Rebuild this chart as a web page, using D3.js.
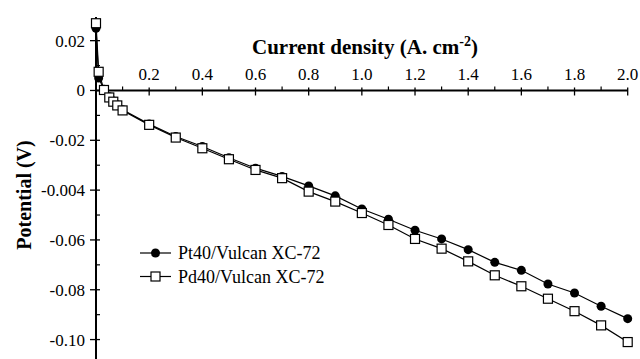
<!DOCTYPE html>
<html>
<head>
<meta charset="utf-8">
<script src="https://cdn.jsdelivr.net/npm/d3@7"></script>
<style>
  body { margin: 0; background: #fff; }
  svg { display: block; font-family: "Liberation Serif", "Times New Roman", serif; }
</style>
</head>
<body>
<svg id="chart" width="640" height="359"></svg>
<script>
// current density (A/cm2)
var current = [0, 0.01, 0.03, 0.05, 0.065, 0.08, 0.1,
    0.2, 0.3, 0.4, 0.5, 0.6, 0.7, 0.8, 0.9, 1.0,
    1.1, 1.2, 1.3, 1.4, 1.5, 1.6, 1.7, 1.8, 1.9, 2.0];
// potential (V)
var pt40 = [0.025, 0.005, 0.0005, -0.0025, -0.0042, -0.0057, -0.0077,
    -0.0135, -0.0185, -0.0225, -0.027, -0.0312, -0.0345, -0.0383, -0.0423, -0.0476,
    -0.0517, -0.0561, -0.0596, -0.0639, -0.069, -0.0722, -0.0777, -0.0813, -0.0866, -0.0916];
var pd40 = [0.027, 0.0075, 0.0002, -0.0028, -0.0045, -0.006, -0.008,
    -0.0138, -0.0189, -0.0232, -0.0276, -0.0319, -0.0352, -0.0406, -0.0446, -0.0492,
    -0.0540, -0.0596, -0.0635, -0.0686, -0.0742, -0.0786, -0.0836, -0.0886, -0.0943, -0.101];
var seriesNames = ["Pt40/Vulcan XC-72", "Pd40/Vulcan XC-72"];
var xTicks = [0.2, 0.4, 0.6, 0.8, 1.0, 1.2, 1.4, 1.6, 1.8, 2.0];
var xMinor = [0.1, 0.3, 0.5, 0.7, 0.9, 1.1, 1.3, 1.5, 1.7, 1.9];
var yTicks = [0.02, 0, -0.02, -0.04, -0.06, -0.08, -0.10];
var yTickLabels = ["0.02", "0", "-0.02", "-0.004", "-0.06", "-0.08", "-0.10"];
var yMinor = [0.01, -0.01, -0.03, -0.05, -0.07, -0.09];

var svg = d3.select("#chart");

var x = d3.scaleLinear().domain([0, 2]).range([96, 627.7]);
var y = d3.scaleLinear().domain([-0.108, 0.0295]).range([359.5, 17]);
var y0 = y(0);

// x axis (sits at potential = 0)
var gx = svg.append("g").attr("transform", "translate(0," + y0 + ")");
gx.append("line")
    .attr("x1", x(0)).attr("x2", x(2))
    .attr("stroke", "#000").attr("stroke-width", 2);
gx.selectAll(".xmaj").data(xTicks).enter().append("line")
    .attr("x1", function (d) { return x(d); })
    .attr("x2", function (d) { return x(d); })
    .attr("y1", -3).attr("y2", 5)
    .attr("stroke", "#000").attr("stroke-width", 1.3);
gx.selectAll(".xmin").data(xMinor).enter().append("line")
    .attr("x1", function (d) { return x(d); })
    .attr("x2", function (d) { return x(d); })
    .attr("y1", -4).attr("y2", 0)
    .attr("stroke", "#000").attr("stroke-width", 1.2);
gx.selectAll(".xlab").data(xTicks).enter().append("text")
    .attr("x", function (d) { return x(d); })
    .attr("y", -10)
    .attr("text-anchor", "middle")
    .attr("font-size", 17)
    .text(function (d) { return d.toFixed(1); });

// y axis
var gy = svg.append("g").attr("transform", "translate(" + x(0) + ",0)");
gy.append("line")
    .attr("y1", y.range()[1]).attr("y2", y.range()[0])
    .attr("stroke", "#000").attr("stroke-width", 2);
gy.selectAll(".ymaj").data(yTicks).enter().append("line")
    .attr("y1", function (d) { return y(d); })
    .attr("y2", function (d) { return y(d); })
    .attr("x1", -6).attr("x2", 4)
    .attr("stroke", "#000").attr("stroke-width", 1.3);
gy.selectAll(".ymin").data(yMinor).enter().append("line")
    .attr("y1", function (d) { return y(d); })
    .attr("y2", function (d) { return y(d); })
    .attr("x1", 0).attr("x2", 4)
    .attr("stroke", "#000").attr("stroke-width", 1.2);
gy.selectAll(".ylab").data(yTicks).enter().append("text")
    .attr("x", -11)
    .attr("y", function (d) { return y(d); })
    .attr("dy", "0.35em")
    .attr("text-anchor", "end")
    .attr("font-size", 17)
    .text(function (d, i) { return yTickLabels[i]; });

// axis titles
var xt = svg.append("text")
    .attr("x", 252).attr("y", 54)
    .attr("font-size", 21).attr("font-weight", "bold")
    .text("Current density (A. cm");
xt.append("tspan").attr("dy", -8).attr("font-size", 14).text("-2");
xt.append("tspan").attr("dy", 8).text(")");

svg.append("text")
    .attr("transform", "translate(31,195) rotate(-90)")
    .attr("text-anchor", "middle")
    .attr("font-size", 20).attr("font-weight", "bold")
    .text("Potential (V)");

// series
var line = d3.line()
    .x(function (d) { return x(d[0]); })
    .y(function (d) { return y(d[1]); });

var ptData = current.map(function (c, i) { return [c, pt40[i]]; });
var pdData = current.map(function (c, i) { return [c, pd40[i]]; });

svg.append("path").datum(ptData)
    .attr("d", line).attr("fill", "none")
    .attr("stroke", "#000").attr("stroke-width", 1.2);
svg.selectAll(".pt").data(ptData).enter().append("circle")
    .attr("cx", function (d) { return x(d[0]); })
    .attr("cy", function (d) { return y(d[1]); })
    .attr("r", 4.5).attr("fill", "#000");

svg.append("path").datum(pdData)
    .attr("d", line).attr("fill", "none")
    .attr("stroke", "#000").attr("stroke-width", 1.2);
svg.selectAll(".pd").data(pdData).enter().append("rect")
    .attr("x", function (d) { return x(d[0]) - 4.5; })
    .attr("y", function (d) { return y(d[1]) - 4.5; })
    .attr("width", 9).attr("height", 9)
    .attr("fill", "#fff").attr("stroke", "#000").attr("stroke-width", 1.2);

// legend
var leg = svg.append("g");
seriesNames.forEach(function (name, i) {
    var ly = 253 + i * 23.5;
    leg.append("line")
        .attr("x1", 140).attr("x2", 171)
        .attr("y1", ly).attr("y2", ly)
        .attr("stroke", "#000").attr("stroke-width", 1.2);
    if (i == 0) {
        leg.append("circle").attr("cx", 155.5).attr("cy", ly).attr("r", 4.5).attr("fill", "#000");
    } else {
        leg.append("rect").attr("x", 151).attr("y", ly - 4.5)
            .attr("width", 9).attr("height", 9)
            .attr("fill", "#fff").attr("stroke", "#000").attr("stroke-width", 1.2);
    }
    leg.append("text")
        .attr("x", 178).attr("y", ly)
        .attr("dy", "0.35em")
        .attr("font-size", 18)
        .text(name);
});
</script>
</body>
</html>
